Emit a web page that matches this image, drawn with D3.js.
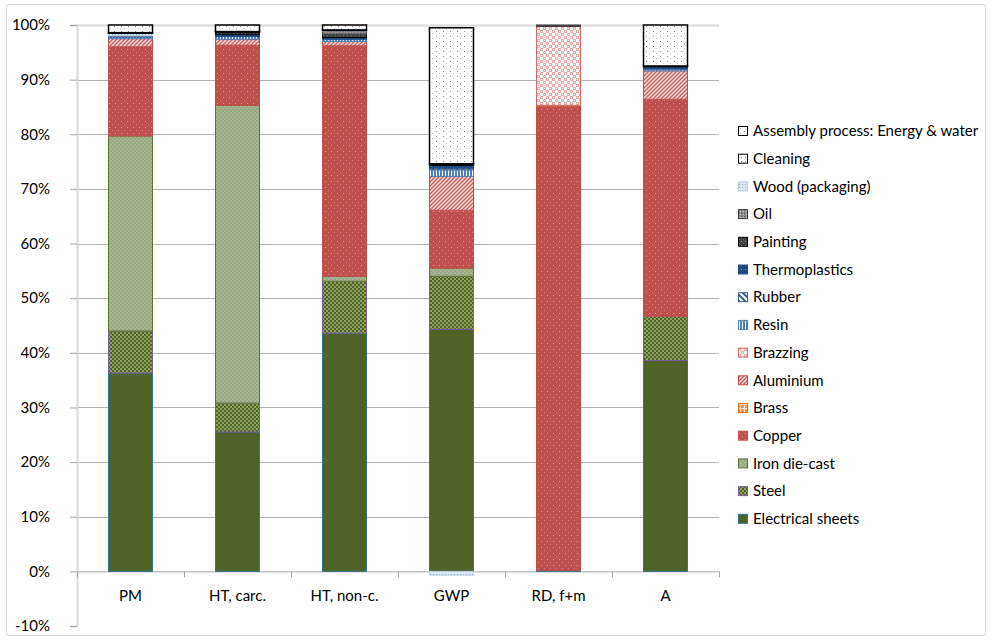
<!DOCTYPE html>
<html><head><meta charset="utf-8">
<script src="https://cdn.jsdelivr.net/npm/d3@7"></script>
<style>
html,body{margin:0;padding:0;background:#fff;}
svg{display:block;font-family:Lato, "Open Sans", sans-serif;}
</style></head>
<body>
<svg id="chart" width="992" height="641"></svg>
<script>
// ---- DATA ----
const categories = ["PM", "HT, carc.", "HT, non-c.", "GWP", "RD, f+m", "A"];
const seriesNames = ["Electrical sheets","Steel","Iron die-cast","Copper","Brass","Aluminium","Brazzing","Resin","Rubber","Thermoplastics","Painting","Oil","Wood (packaging)","Cleaning","Assembly process: Energy & water"];
const electricalSheets = [36.3, 25.5, 43.6, 44.3, 0.2, 38.6];
const steel            = [7.7, 5.3, 9.5, 9.7, 0, 8.1];
const ironDieCast      = [35.7, 54.5, 0.9, 1.5, 0, 0];
const copper           = [16.3, 11.0, 42.2, 10.6, 85.0, 39.7];
const brass            = [0, 0, 0, 0, 0.1, 0];
const aluminium        = [1.5, 1.1, 0.8, 6.2, 0, 5.2];
const brazzing         = [0, 0, 0, 0, 14.5, 0];
const resin            = [0.3, 0.5, 0.4, 1.2, 0, 0.3];
const rubber           = [0.1, 0, 0, 0.3, 0, 0.2];
const thermoplastics   = [0.1, 0.4, 0.3, 0.5, 0, 0.3];
const painting         = [0, 0.3, 0.6, 0.1, 0.1, 0];
const oil              = [0, 0.1, 0.6, 0, 0.1, 0];
const woodPackaging    = [0.5, 0, 0.1, -0.7, 0, 0];
const cleaning         = [0.1, 0.1, 0.1, 0.2, 0, 0.1];
const assembly         = [1.4, 1.2, 0.9, 24.9, 0, 7.5];
const yTicks = [-10, 0, 10, 20, 30, 40, 50, 60, 70, 80, 90, 100];

const seriesValues = [electricalSheets, steel, ironDieCast, copper, brass, aluminium, brazzing, resin, rubber, thermoplastics, painting, oil, woodPackaging, cleaning, assembly];

// ---- STYLES ----
const styles = [
  {fill:"#4F6228", stroke:"#31748F"},
  {fill:"url(#p-steel)", stroke:"#7A5C9C"},
  {fill:"url(#p-iron)", stroke:"#5E7430"},
  {fill:"url(#p-copper)", stroke:"#C0504D"},
  {fill:"url(#p-brass)", stroke:"#E46C0A"},
  {fill:"url(#p-alu)", stroke:"#C0504D"},
  {fill:"url(#p-braz)", stroke:"#D46A68"},
  {fill:"url(#p-resin)", stroke:"#4F81BD"},
  {fill:"url(#p-rubber)", stroke:"#385D8A"},
  {fill:"url(#p-thermo)", stroke:"#1F497D"},
  {fill:"url(#p-paint)", stroke:"#000000"},
  {fill:"url(#p-oil)", stroke:"#404040"},
  {fill:"url(#p-wood)", stroke:"#B9CDE5"},
  {fill:"url(#p-clean)", stroke:"#000000"},
  {fill:"url(#p-assy)", stroke:"#000000"}
];

const svg = d3.select("#chart");
const defs = svg.append("defs");
function pat(id, w, h, bg, draw){
  const p = defs.append("pattern").attr("id", id).attr("patternUnits","userSpaceOnUse").attr("width", w).attr("height", h);
  p.append("rect").attr("width", w).attr("height", h).attr("fill", bg);
  draw(p);
}
function px(p, x, y, c, w=1, h=1){ p.append("rect").attr("x",x).attr("y",y).attr("width",w).attr("height",h).attr("fill",c); }
pat("p-steel", 4, 4, "#4F6228", p=>{ px(p,0,0,"#8EA35C",2,2); px(p,2,2,"#8EA35C",2,2); });
pat("p-iron", 4, 4, "#A7B593", p=>{ px(p,0,0,"#98A884",2,2); px(p,2,2,"#98A884",2,2); });
pat("p-copper", 6, 6, "#C0504D", p=>{ px(p,1,1,"#E29B99"); px(p,4,4,"#D8807E"); });
pat("p-brass", 4, 4, "#F79646", p=>{ px(p,0,0,"#FCE4D0",4,1); px(p,0,0,"#FCE4D0",1,4); });
pat("p-alu", 4, 4, "#F6DDDC", p=>{ p.append("path").attr("d","M-1,1 L1,-1 M0,4 L4,0 M3,5 L5,3").attr("stroke","#C9615E").attr("stroke-width",1.4); });
pat("p-braz", 6, 6, "#FFFFFF", p=>{ px(p,0,0,"#E9A9A8",3,3); px(p,3,3,"#E9A9A8",3,3); px(p,1,1,"#FFFFFF"); px(p,4,4,"#FFFFFF"); });
pat("p-resin", 3, 3, "#4F81BD", p=>{ px(p,1,0,"#FFFFFF",1,3); });
pat("p-rubber", 6, 6, "#FFFFFF", p=>{ p.append("path").attr("d","M-1,-1 L7,7 M-4,2 L2,8 M2,-4 L8,2").attr("stroke","#385D8A").attr("stroke-width",2); });
pat("p-thermo", 4, 4, "#1F497D", p=>{ px(p,1,1,"#8EA9CC"); });
pat("p-paint", 4, 4, "#404040", p=>{ px(p,1,1,"#9A9A9A"); px(p,3,3,"#707070"); });
pat("p-oil", 3, 3, "#8C8C8C", p=>{ px(p,0,0,"#5A5A5A"); px(p,2,1,"#CFCFCF"); });
pat("p-wood", 3, 3, "#DCE6F2", p=>{ px(p,1,1,"#8EA9CC"); });
pat("p-clean", 4, 4, "#FFFFFF", p=>{ px(p,1,1,"#7F7F7F"); });
pat("p-assy", 7, 5, "#FFFFFF", p=>{ px(p,2,1,"#8C8C8C"); px(p,5,3,"#C8C8C8"); });

// outer border
svg.append("rect").attr("x",6.5).attr("y",4.5).attr("width",979).attr("height",631)
  .attr("fill","none").attr("stroke","#D9D9D9").attr("stroke-width",1).attr("rx",2);

// ---- SCALES ----
const x = d3.scaleBand().domain(categories).range([77, 719]).paddingInner(0.589).paddingOuter(0.2945);
const y = d3.scaleLinear().domain([-10, 100]).range([626, 25]);

// gridlines
svg.append("g").selectAll("line").data(yTicks.filter(t => t > 0))
  .join("line").attr("x1", 77).attr("x2", 719)
  .attr("y1", d => Math.round(y(d)) + 0.5).attr("y2", d => Math.round(y(d)) + 0.5)
  .attr("stroke", d => d === 100 ? "#D9D9D9" : "#B3B3B3").attr("stroke-width", d => d === 100 ? 2 : 1);

// y axis
const yAxis = d3.axisLeft(y).tickValues(yTicks).tickFormat(d => d + "%").tickSize(7).tickPadding(20);
const gy = svg.append("g").attr("transform", "translate(77,0)").call(yAxis);
gy.select(".domain").attr("stroke", "#D9D9D9").attr("stroke-width", 2);
gy.selectAll(".tick line").attr("stroke", "#A6A6A6");
gy.selectAll(".tick text").attr("font-size", 15).attr("fill", "#000").attr("font-family", "Lato, sans-serif");

// x axis at 0
const xAxis = d3.axisBottom(x).tickSize(0).tickPadding(19);
const gx = svg.append("g").attr("transform", `translate(0,${y(0)})`).call(xAxis);
gx.select(".domain").attr("stroke", "#A6A6A6");
gx.selectAll(".tick text").attr("font-size", 15).attr("fill", "#000").attr("font-family", "Lato, sans-serif");
// boundary tick marks
const step = x.step();
svg.append("g").selectAll("line").data(d3.range(categories.length + 1))
  .join("line").attr("x1", i => 77 + i * step + 0.5).attr("x2", i => 77 + i * step + 0.5)
  .attr("y1", y(0)).attr("y2", y(0) + 6).attr("stroke", "#A6A6A6");

// ---- STACK ----
const rows = categories.map((c, i) => {
  const r = {cat: c};
  seriesNames.forEach((s, k) => r[s] = seriesValues[k][i]);
  return r;
});
const stacked = d3.stack().keys(seriesNames).offset(d3.stackOffsetDiverging)(rows);

const gBars = svg.append("g");
stacked.forEach((layer, k) => {
  gBars.append("g").selectAll("rect").data(layer.filter(d => d[1] !== d[0]))
    .join("rect")
    .attr("x", d => x(d.data.cat))
    .attr("width", x.bandwidth())
    .attr("y", d => y(Math.max(d[0], d[1])))
    .attr("height", d => Math.abs(y(d[0]) - y(d[1])))
    .attr("fill", styles[k].fill)
    .attr("stroke", styles[k].stroke)
    .attr("stroke-width", (k >= 13) ? 1.5 : 1);
});

// ---- LEGEND ----
const legendOrder = seriesNames.slice().reverse();
const lg = svg.append("g");
legendOrder.forEach((name, i) => {
  const k = seriesNames.indexOf(name);
  const yy = 131 + i * 27.7;
  lg.append("rect").attr("x", 738.5).attr("y", yy - 4.5).attr("width", 9).attr("height", 9)
    .attr("fill", styles[k].fill).attr("stroke", styles[k].stroke);
  lg.append("text").attr("x", 753).attr("y", yy).attr("dy", "0.35em")
    .attr("font-size", 15).attr("fill", "#000").text(name);
});
</script>
</body></html>
